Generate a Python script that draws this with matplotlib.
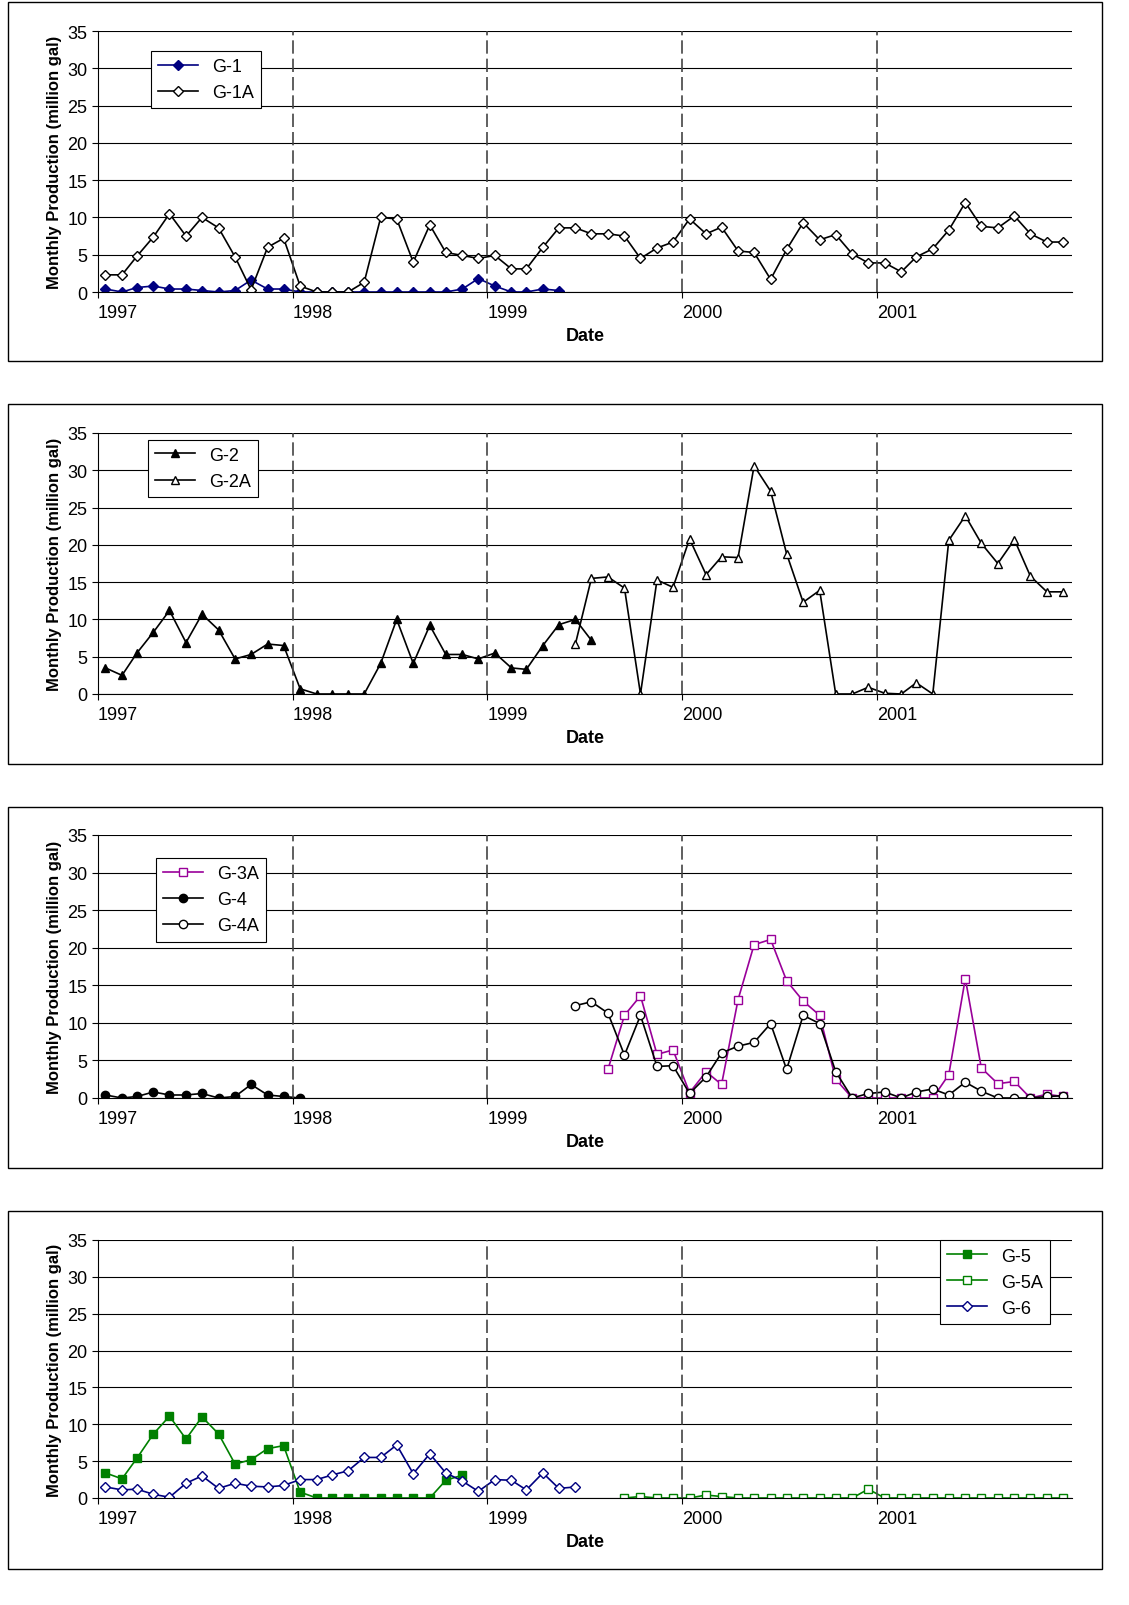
import datetime as dt
import matplotlib
matplotlib.use("Agg")
import matplotlib.pyplot as plt
import matplotlib.dates as mdates
from matplotlib.patches import Rectangle

plt.rcParams['font.family'] = ['Liberation Sans', 'DejaVu Sans']

def months(y, m, n):
    out = []
    for i in range(n):
        yy = y + (m - 1 + i) // 12
        mm = (m - 1 + i) % 12 + 1
        out.append(dt.date(yy, mm, 15))
    return out

# --- data (million gal per month) ---
g1 = [0.4, 0, 0.6, 0.8, 0.4, 0.4, 0.2, 0, 0.2, 1.6, 0.4, 0.4,
      0, 0, 0, 0, 0, 0, 0, 0, 0, 0, 0.4, 1.8,
      0.8, 0, 0, 0.4, 0.2]
g1a = [2.3, 2.3, 4.8, 7.4, 10.5, 7.5, 10, 8.6, 4.7, 0.3, 6, 7.2,
       0.8, 0, 0, 0, 1.3, 10, 9.8, 4, 9, 5.3, 4.9, 4.5,
       4.9, 3.1, 3.1, 6, 8.6, 8.6, 7.8, 7.8, 7.5, 4.5, 5.9, 6.7,
       9.8, 7.8, 8.7, 5.5, 5.3, 1.7, 5.7, 9.3, 7, 7.7, 5.1, 3.9,
       3.9, 2.7, 4.7, 5.8, 8.3, 12, 8.8, 8.6, 10.2, 7.8, 6.7, 6.7]
g2 = [3.5, 2.5, 5.5, 8.3, 11.2, 6.9, 10.7, 8.6, 4.7, 5.3, 6.7, 6.5,
      0.7, 0, 0, 0, 0, 4.1, 10, 4.1, 9.2, 5.3, 5.3, 4.7,
      5.5, 3.5, 3.3, 6.5, 9.3, 10, 7.2]
g2a = [6.7, 15.5, 15.7, 14.2, 0, 15.3, 14.3,
       20.8, 16, 18.4, 18.3, 30.6, 27.2, 18.8, 12.3, 13.9, 0, 0, 0.9,
       0.1, 0, 1.5, 0, 20.6, 23.9, 20.2, 17.5, 20.7, 15.8, 13.7, 13.7]
g3a = [3.8, 11, 13.6, 5.8, 6.4,
       0.7, 3.5, 1.8, 13.1, 20.4, 21.1, 15.6, 12.9, 11, 2.5, 0, 0,
       0, 0, 0, 0, 3.1, 15.9, 4, 1.9, 2.2, 0, 0.5, 0.2]
g4 = [0.4, 0, 0.2, 0.8, 0.4, 0.4, 0.6, 0, 0.2, 1.8, 0.4, 0.2, 0]
g4a = [12.3, 12.8, 11.3, 5.7, 11, 4.2, 4.3,
       0.6, 2.8, 6, 6.9, 7.4, 9.9, 3.8, 11, 9.9, 3.5, 0, 0.6,
       0.8, 0, 0.8, 1.2, 0.4, 2.1, 0.9, 0, 0, 0, 0.2, 0.3]
g5 = [3.4, 2.6, 5.4, 8.7, 11.1, 8, 11, 8.7, 4.6, 5.2, 6.7, 7.1,
      0.8, 0, 0, 0, 0, 0, 0, 0, 0, 2.4, 3.1]
g5a = [0, 0.2, 0, 0,
       0, 0.4, 0.2, 0, 0, 0, 0, 0, 0, 0, 0, 1.2,
       0, 0, 0, 0, 0, 0, 0, 0, 0, 0, 0, 0]
g6 = [1.5, 1.1, 1.2, 0.5, 0.1, 2, 3, 1.3, 2, 1.6, 1.5, 1.7,
      2.5, 2.5, 3.1, 3.7, 5.5, 5.5, 7.2, 3.3, 6, 3.4, 2.3, 0.9,
      2.5, 2.4, 1.1, 3.4, 1.3, 1.5]
year_ticks = [1997, 1998, 1999, 2000, 2001]

navy = "#000080"
purple = "#990099"
green = "#008000"

panels = [
    [("G-1", g1, (1997, 1), "D", navy, navy),
     ("G-1A", g1a, (1997, 1), "D", "black", "white")],
    [("G-2", g2, (1997, 1), "^", "black", "black"),
     ("G-2A", g2a, (1999, 6), "^", "black", "white")],
    [("G-3A", g3a, (1999, 8), "s", purple, "white"),
     ("G-4", g4, (1997, 1), "o", "black", "black"),
     ("G-4A", g4a, (1999, 6), "o", "black", "white")],
    [("G-5", g5, (1997, 1), "s", green, green),
     ("G-5A", g5a, (1999, 9), "s", green, "white"),
     ("G-6", g6, (1997, 1), "D", navy, "white")],
]
legend_pos = [(0.045, 0.67), (0.042, 0.72), (0.05, 0.56), (0.855, 0.64)]

W, H = 1129, 1606
fig = plt.figure(figsize=(W / 100, H / 100), dpi=100)
boxes = [(3, 362, 32, 293), (405, 765, 434, 695), (808, 1169, 836, 1099), (1212, 1570, 1241, 1499)]

for k, series in enumerate(panels):
    bt, bb, at, ab = boxes[k]
    fig.patches.append(Rectangle((8 / W, 1 - bb / H), 1094 / W, (bb - bt) / H,
                                 transform=fig.transFigure, fill=False, lw=1, ec="black"))
    ax = fig.add_axes([98 / W, 1 - ab / H, (1072 - 98) / W, (ab - at) / H])
    for name, vals, (y0, m0), mk, col, face in series:
        ax.plot(months(y0, m0, len(vals)), vals, marker=mk, color=col, mfc=face,
                mec=col, ms=6 if mk != "D" else 5, lw=1.2, label=name)
    ax.set_xlim(dt.date(1997, 1, 1), dt.date(2002, 1, 1))
    ax.set_ylim(0, 35)
    ax.set_yticks(range(0, 36, 5))
    ax.grid(axis="y", color="black", lw=0.8)
    for yr in year_ticks[1:]:
        ax.axvline(dt.date(yr, 1, 1), color="#444444", lw=1.2, ls=(0, (8, 3)))
    ax.set_xticks([dt.date(y, 1, 1) for y in year_ticks])
    ax.xaxis.set_major_formatter(mdates.DateFormatter("%Y"))
    for lab in ax.get_xticklabels():
        lab.set_horizontalalignment("left")
        lab.set_x(0)
    ax.tick_params(labelsize=13, direction="out", length=4)
    ax.tick_params(axis="x", pad=5)
    for s in ["top", "right"]:
        ax.spines[s].set_visible(False)
    ax.set_xlabel("Date", fontsize=13, fontweight="bold", labelpad=4)
    ax.set_ylabel("Monthly Production (million gal)", fontsize=12, fontweight="bold")
    leg = ax.legend(loc="lower left", bbox_to_anchor=legend_pos[k], fontsize=13,
                    fancybox=False, edgecolor="black", framealpha=1,
                    handlelength=2.2, borderpad=0.4, labelspacing=0.5)
    leg.get_frame().set_linewidth(0.8)

fig.savefig("out.png", dpi=100)
